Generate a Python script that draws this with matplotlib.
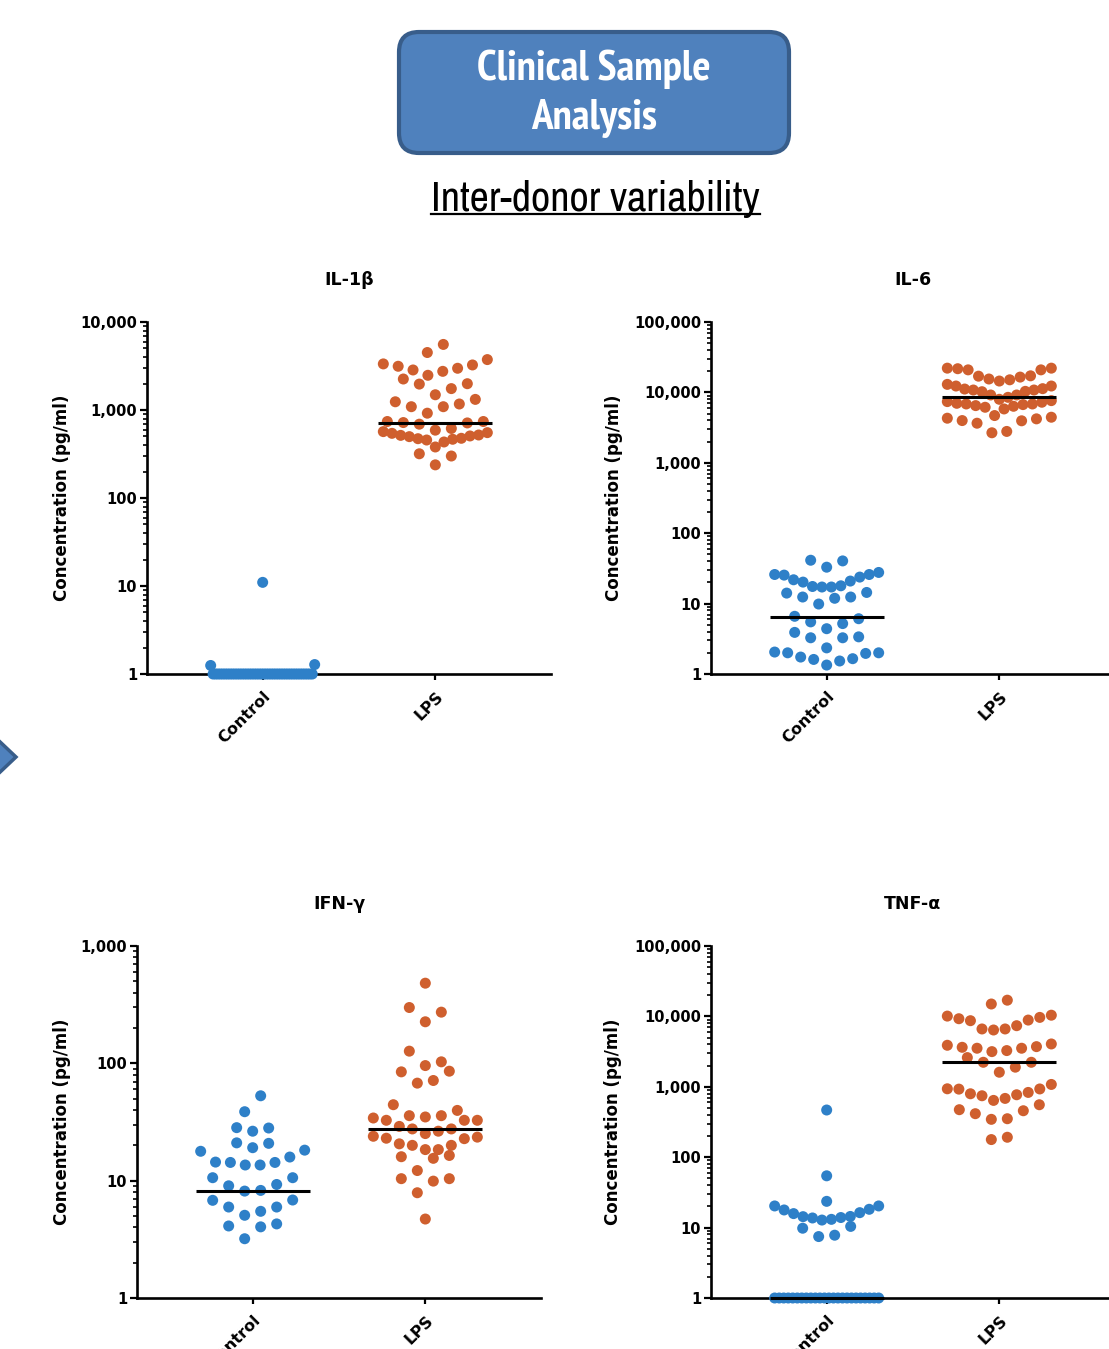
import numpy as np
import matplotlib
matplotlib.use("Agg")
import matplotlib.pyplot as plt
from matplotlib import font_manager as fm
from matplotlib.patches import FancyBboxPatch, Polygon
from matplotlib.ticker import FuncFormatter, LogLocator, NullFormatter

W, H, DPI = 1109, 1349, 100

groups = ["Control", "LPS"]
titles = ["IL-1β", "IL-6", "IFN-γ", "TNF-α"]
y_tops = [1e4, 1e5, 1e3, 1e5]

# values (pg/ml); undetectable samples sit at 1
il1b_ctrl = [11.0, 1.28, 1.25,
             1, 1, 1, 1, 1, 1, 1, 1, 1, 1, 1, 1, 1, 1, 1, 1, 1, 1, 1, 1, 1,
             1, 1, 1, 1, 1, 1, 1, 1, 1, 1, 1, 1, 1, 1, 1, 1, 1, 1, 1, 1, 1]
il1b_lps = [5560, 4500, 3740, 3340, 3250, 3140, 2980, 2850, 2750, 2480,
            2250, 1990, 1970, 1750, 1490, 1320, 1240, 1170, 1090, 1090,
            920, 740, 740, 720, 713, 690, 617, 590, 568, 553,
            543, 520, 515, 507, 498, 477, 472, 465, 456, 433,
            380, 318, 300, 238]

il6_ctrl = [41.3, 40.4, 32.9, 27.7, 25.9, 25.9, 25.4, 23.8, 21.8, 20.9,
            20.2, 17.9, 17.5, 17.2, 17.2, 14.4, 14.1, 12.4, 12.4, 11.9,
            9.86, 6.6, 6.1, 5.5, 5.2, 4.4, 3.9, 3.37, 3.27, 3.27,
            2.35, 2.05, 2.0, 2.0, 1.96, 1.74, 1.65, 1.61, 1.53, 1.34]
il6_lps = [22100, 22100, 21700, 20900, 20900, 17200, 17000, 16500, 15500, 15100,
           14500, 13000, 12320, 12320, 11300, 11160, 10810, 10810, 10350, 10230,
           9190, 9190, 8510, 7980, 7640, 7400, 7250, 7000, 6850, 6850,
           6710, 6490, 6350, 6150, 5820, 4690, 4440, 4300, 4210, 3980,
           3950, 3650, 2790, 2670]

ifn_ctrl = [52.9, 38.7, 28.3, 28.1, 26.4, 21.0, 20.8, 19.1, 18.2, 17.8,
            15.9, 14.4, 14.3, 14.3, 13.6, 13.6, 10.6, 10.6, 9.28, 9.04,
            8.26, 8.15, 6.84, 6.8, 5.96, 5.96, 5.48, 5.07, 4.28, 4.11,
            4.04, 3.2]
ifn_lps = [482, 299, 273, 226, 127, 103, 95.7, 85.7, 84.6, 71.4,
           67.8, 44.4, 39.7, 35.8, 35.8, 34.9, 34.2, 32.7, 32.7, 32.7,
           29.0, 27.6, 27.6, 26.4, 25.2, 23.9, 23.5, 23.0, 22.8, 20.6,
           20.0, 20.0, 18.4, 18.4, 16.4, 16.0, 15.5, 12.2, 10.4, 10.4,
           9.91, 7.89, 4.71]

tnf_ctrl = [468, 54.4, 23.6, 20.3, 20.3, 18.2, 17.8, 16.3, 15.8, 14.4,
            14.3, 13.9, 13.7, 13.1, 12.8, 10.4, 9.8, 7.8, 7.46,
            1, 1, 1, 1, 1, 1, 1, 1, 1, 1, 1, 1, 1, 1, 1, 1, 1, 1, 1, 1, 1, 1, 1, 1]
tnf_lps = [17000, 15000, 10400, 10100, 9680, 9270, 8870, 8690, 7380, 6630,
           6630, 6410, 4060, 3890, 3720, 3640, 3530, 3530, 3270, 3160,
           2600, 2230, 2230, 1900, 1610, 1080, 937, 932, 927, 832,
           796, 771, 746, 684, 641, 556, 473, 457, 415, 352,
           345, 192, 178]

# centre lines drawn by the original (nan = none shown)
center_lines = [[np.nan, 720], [6.47, 8710], [8.2, 27.5], [1.0, 2230]]

BLUE = "#2E80C8"
ORANGE = "#CF5F2E"
DOT = 11.0  # marker diameter, px

plt.rcParams["font.family"] = ["DejaVu Sans"]
plt.rcParams["font.weight"] = "bold"


def narrow_font(bold):
    # look for an installed narrow/condensed face, best first
    prefs = ["Narrow", "-Condensed", "SemiCondensed", "Condensed"]
    best, best_rank = None, None
    for f in fm.fontManager.ttflist:
        fname = f.fname.split("/")[-1]
        is_bold = "Bold" in fname and "SemiBold" not in fname and "ExtraBold" not in fname
        plain = not any(s in fname for s in ["Italic", "Light", "Thin", "Black", "Medium",
                                             "SemiBold", "ExtraBold", "Oblique"])
        if bold != is_bold or not (plain or is_bold) or "Italic" in fname or "Oblique" in fname:
            continue
        for r, key in enumerate(prefs):
            if key in fname and "Extra" not in fname:
                if "Display" in fname or "Mono" in fname:
                    break
                if best_rank is None or r < best_rank:
                    best, best_rank = f.fname, r
                break
    if best is None:
        return fm.FontProperties(family=["Liberation Sans", "DejaVu Sans"],
                                 weight="bold" if bold else "normal")
    return fm.FontProperties(fname=best)


def px_rect(left, top, width, height):
    return [left / W, 1 - (top + height) / H, width / W, height / H]


def swarm_x(ax, xc, values, d=DOT, bin_h=16.0, step=16.0, half_w=52.0):
    # prism-like rows: values within bin_h px share a row, lowest in the middle
    vals = np.asarray(values, float)
    xy = ax.transData.transform(np.column_stack([np.full(len(vals), xc), vals]))
    ys = xy[:, 1]
    order = np.argsort(ys, kind="stable")
    offs = np.zeros(len(vals))
    i = 0
    while i < len(order):
        j = i
        while j + 1 < len(order) and ys[order[j + 1]] - ys[order[i]] < bin_h:
            j += 1
        row = order[i:j + 1]
        n = len(row)
        sp = step if n < 2 else min(step, 2 * half_w / (n - 1))
        slots = (np.arange(n) - (n - 1) / 2) * sp
        tie = -slots if n % 2 else slots
        offs[row] = slots[np.lexsort((tie, np.abs(slots)))]
        i = j + 1
    xy[:, 0] += offs
    return ax.transData.inverted().transform(xy)[:, 0]


def draw_panel(ax, title, ctrl, lps, centers, top, label_dx):
    ax.set_yscale("log")
    ax.set_ylim(1, top)
    ax.set_xlim(-0.67, 1.67)

    for k, (vals, col) in enumerate([(ctrl, BLUE), (lps, ORANGE)]):
        xs = swarm_x(ax, k, vals)
        ax.scatter(xs, vals, s=(DOT * 72 / DPI) ** 2, color=col,
                   edgecolors="none", clip_on=False, zorder=3)
        if not np.isnan(centers[k]):
            ax.plot([k - 0.33, k + 0.33], [centers[k]] * 2, color="black",
                    lw=2.2, solid_capstyle="butt", clip_on=False, zorder=4)

    for side in ["top", "right"]:
        ax.spines[side].set_visible(False)
    for side in ["left", "bottom"]:
        ax.spines[side].set_linewidth(1.9)

    ax.yaxis.set_major_locator(LogLocator(base=10, numticks=10))
    ax.yaxis.set_minor_locator(LogLocator(base=10, subs=np.arange(2, 10), numticks=50))
    ax.yaxis.set_minor_formatter(NullFormatter())
    ax.yaxis.set_major_formatter(FuncFormatter(lambda v, p: f"{v:,.0f}"))
    ax.tick_params(axis="y", which="major", direction="out", length=5,
                   width=1.6, pad=2, labelsize=10.5)
    ax.tick_params(axis="y", which="minor", direction="out", length=3, width=1.2)

    ax.set_xticks([0, 1])
    ax.set_xticklabels(groups, rotation=45, ha="right", va="top",
                       rotation_mode="anchor")
    ax.tick_params(axis="x", direction="out", length=4.5, width=1.6, pad=6,
                   labelsize=11.5)

    ax.text(0.5, 1 + 42 / 352, title, transform=ax.transAxes, ha="center",
            va="center", fontsize=12.5)
    ax.text(label_dx / 404, 0.5, "Concentration (pg/ml)", transform=ax.transAxes,
            rotation=90, ha="center", va="center", fontsize=12)


def fit_width(fig, t, target, max_size):
    fig.canvas.draw()
    w = t.get_window_extent().width
    t.set_fontsize(min(max_size, t.get_fontsize() * target / w))


fig = plt.figure(figsize=(W / DPI, H / DPI), dpi=DPI)

# header decoration in pixel space
deco = fig.add_axes([0, 0, 1, 1])
deco.set_xlim(0, W)
deco.set_ylim(H, 0)
deco.axis("off")
deco.add_patch(FancyBboxPatch((399, 32), 390, 121,
                              boxstyle="round,pad=0,rounding_size=20",
                              fc="#4F81BD", ec="#385D8A", lw=3))
head = deco.text(594, 94, "Clinical Sample\nAnalysis", ha="center", va="center",
                 color="white", fontproperties=narrow_font(True), linespacing=1.32)
head.set_fontsize(30)
sub = deco.text(595.5, 211, "Inter-donor variability", ha="center", va="baseline",
                color="black", fontproperties=narrow_font(False))
sub.set_fontsize(31)
fit_width(fig, head, 262, 31)
fit_width(fig, sub, 329, 32)
deco.add_patch(Polygon([(-3, 739), (16, 757), (-3, 775)], closed=True,
                       fc="#4F81BD", ec="#385D8A", lw=2.5))

layout = [(147, 322, -85), (711, 322, -97), (137, 946, -75), (711, 946, -98)]
series = [(il1b_ctrl, il1b_lps), (il6_ctrl, il6_lps),
          (ifn_ctrl, ifn_lps), (tnf_ctrl, tnf_lps)]

for (left, top, dx), title, (c, l), cen, yt in zip(layout, titles, series,
                                                    center_lines, y_tops):
    ax = fig.add_axes(px_rect(left, top, 404, 352))
    draw_panel(ax, title, c, l, cen, yt, dx)

# underline the subtitle
fig.canvas.draw()
bb = sub.get_window_extent()
deco.plot([bb.x0, bb.x1], [214, 214], color="black", lw=1.6)

fig.savefig("out.png", dpi=DPI)
